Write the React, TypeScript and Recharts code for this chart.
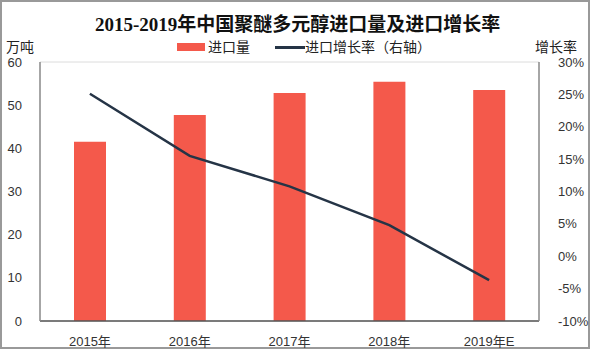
import React from "react";
import {
  ComposedChart,
  Bar,
  Line,
  XAxis,
  YAxis,
  CartesianGrid,
} from "recharts";

const years = ["2015年", "2016年", "2017年", "2018年", "2019年E"];
const importVolume = [41.5, 47.7, 52.8, 55.4, 53.5];
const growthRate = [25.1, 15.5, 10.8, 4.8, -3.7];
const leftTicks = [0, 10, 20, 30, 40, 50, 60];
const rightTicks = [-10, -5, 0, 5, 10, 15, 20, 25, 30];

const BAR_COLOR = "#f4594b";
const LINE_COLOR = "#253446";
const FONT = "'Liberation Sans', 'Noto Sans CJK SC', sans-serif";

const data = years.map((year, i) => ({
  year,
  volume: importVolume[i],
  rate: growthRate[i],
}));

export default function App() {
  const tickStyle = { fontSize: 13, fill: "#333", fontFamily: FONT };
  return (
    <div
      style={{
        position: "fixed",
        left: 0,
        top: 0,
        width: 595,
        height: 351,
        background: "#fff",
        fontFamily: FONT,
      }}
    >
      <div
        style={{
          position: "absolute",
          left: 0,
          top: 0,
          width: 586,
          height: 345,
          border: "2px solid #999",
          pointerEvents: "none",
        }}
      />
      <div
        style={{
          position: "absolute",
          top: 11,
          left: 95,
          whiteSpace: "nowrap",
          fontSize: 19,
          lineHeight: "28px",
          fontWeight: "bold",
          fontFamily: "'Liberation Serif', 'Noto Sans CJK SC', serif",
          color: "#111",
        }}
      >
        2015-2019年中国聚醚多元醇进口量及进口增长率
      </div>
      <div style={{ position: "absolute", left: 6, top: 36, fontSize: 14, color: "#222" }}>
        万吨
      </div>
      <div style={{ position: "absolute", left: 535, top: 36, fontSize: 14, color: "#222" }}>
        增长率
      </div>
      <div
        style={{
          position: "absolute",
          top: 37,
          left: 177,
          display: "flex",
          alignItems: "center",
          fontSize: 14,
          lineHeight: "20px",
          color: "#222",
        }}
      >
        <span style={{ width: 28, height: 8, background: BAR_COLOR, marginRight: 3 }} />
        <span>进口量</span>
        <span
          style={{ width: 30, height: 3, background: LINE_COLOR, marginLeft: 25, marginRight: 0 }}
        />
        <span>进口增长率（右轴）</span>
      </div>
      <ComposedChart
        width={595}
        height={351}
        data={data}
        margin={{ top: 62, right: 0, bottom: 0, left: 0 }}
      >
        <CartesianGrid vertical={false} stroke="#dcdcdc" />
        <XAxis
          dataKey="year"
          height={30}
          tickLine={false}
          axisLine={{ stroke: "#555", strokeWidth: 1.5 }}
          tick={tickStyle}
          tickMargin={10}
        />
        <YAxis
          yAxisId="left"
          width={40}
          domain={[0, 60]}
          ticks={leftTicks}
          tickLine={false}
          axisLine={{ stroke: "#888", strokeWidth: 1.5 }}
          tick={tickStyle}
          tickMargin={12}
        />
        <YAxis
          yAxisId="right"
          orientation="right"
          width={56}
          domain={[-10, 30]}
          ticks={rightTicks}
          tickFormatter={(v) => `${v}%`}
          tickLine={false}
          axisLine={{ stroke: "#888", strokeWidth: 1.5 }}
          tick={{ ...tickStyle, textAnchor: "start" }}
          tickMargin={13}
        />
        <Bar
          yAxisId="left"
          dataKey="volume"
          fill={BAR_COLOR}
          barSize={32}
          isAnimationActive={false}
        />
        <Line
          yAxisId="right"
          dataKey="rate"
          stroke={LINE_COLOR}
          strokeWidth={2.5}
          dot={false}
          type="linear"
          isAnimationActive={false}
        />
      </ComposedChart>
    </div>
  );
}
